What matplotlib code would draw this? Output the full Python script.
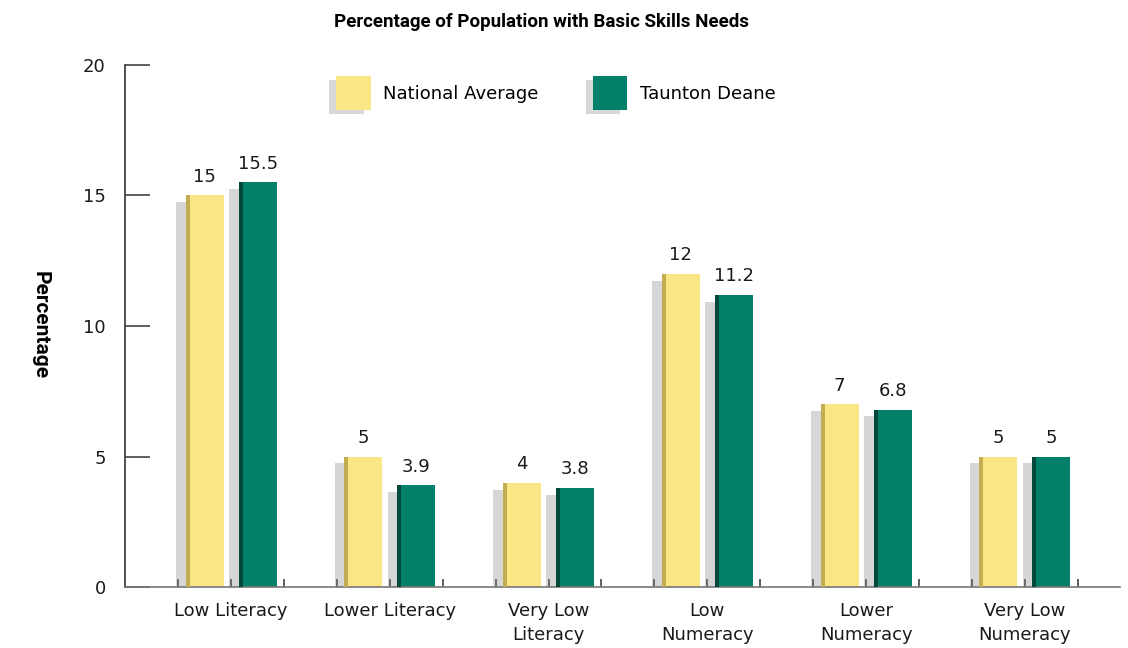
import matplotlib.pyplot as plt
import matplotlib.patheffects as pe
from matplotlib.patches import Patch
import numpy as np

categories = ["Low Literacy", "Lower Literacy", "Very Low\nLiteracy",
              "Low\nNumeracy", "Lower\nNumeracy", "Very Low\nNumeracy"]
national = [15, 5, 4, 12, 7, 5]
taunton = [15.5, 3.9, 3.8, 11.2, 6.8, 5]
series_names = ["National Average", "Taunton Deane"]

yellow = "#FAE685"
yellow_edge = "#C4AC52"
teal = "#03806A"
teal_edge = "#02493B"

plt.rcParams['font.family'] = ['DejaVu Sans']

fig = plt.figure(figsize=(11.28, 6.48), dpi=100)
ax = fig.add_axes([0.111, 0.094, 0.882, 0.806])

x = np.arange(len(categories))
w = 0.24
off = 0.167
edge_w = 0.025
shadow = [pe.SimplePatchShadow(offset=(-7, -5), shadow_rgbFace="#808080", alpha=0.32), pe.Normal()]
leg_shadow = [pe.SimplePatchShadow(offset=(-5, -3), shadow_rgbFace="#808080", alpha=0.3), pe.Normal()]

for vals, dx, col, ecol in [(national, -off, yellow, yellow_edge), (taunton, off, teal, teal_edge)]:
    ax.bar(x + dx, vals, width=w, color=col, path_effects=shadow, zorder=2)
    # darker left edge to fake the 3D look
    ax.bar(x + dx - w / 2 + edge_w / 2, vals, width=edge_w, color=ecol, zorder=3)
    for xi, v in zip(x + dx, vals):
        ax.annotate(f"{v:g}", (xi, v), xytext=(0, 7), textcoords="offset points",
                    ha="center", va="bottom", fontsize=13, color="#1a1a1a")

ax.set_ylim(0, 20)
ax.set_xlim(-0.667, 5.6)
ax.set_yticks([0, 5, 10, 15, 20])
ax.tick_params(axis="y", direction="in", length=18, width=1.2, color="#444444",
               pad=14, labelsize=13, labelcolor="#1a1a1a")
ax.set_xticks(x)
ax.set_xticklabels(categories, linespacing=1.4)
ax.set_xticks(np.concatenate([x - 0.333, x + 0.333]), minor=True)
ax.tick_params(axis="x", which="both", direction="in", length=6, width=1.2,
               color="#444444", pad=11, labelsize=13, labelcolor="#1a1a1a")

for s in ["top", "right"]:
    ax.spines[s].set_visible(False)
ax.spines["left"].set_color("#333333")
ax.spines["left"].set_linewidth(1.2)
ax.spines["bottom"].set_color("#777777")
ax.spines["bottom"].set_linewidth(1.2)

handles = [Patch(facecolor=yellow, path_effects=leg_shadow), Patch(facecolor=teal, path_effects=leg_shadow)]
ax.legend(handles, series_names, loc="center left", bbox_to_anchor=(0.203, 0.946),
          ncol=2, frameon=False, fontsize=13, handlelength=1.9, handleheight=2.5,
          handletextpad=0.7, columnspacing=3.0, borderpad=0)

fig.text(0.48, 0.966, "Percentage of Population with Basic Skills Needs",
         ha="center", va="center", fontsize=13.5, fontweight="bold", family="Roboto")
fig.text(0.036, 0.498, "Percentage", rotation=270, ha="center", va="center",
         fontsize=15, fontweight="bold", family="Roboto")

fig.savefig("out.png", dpi=100)
